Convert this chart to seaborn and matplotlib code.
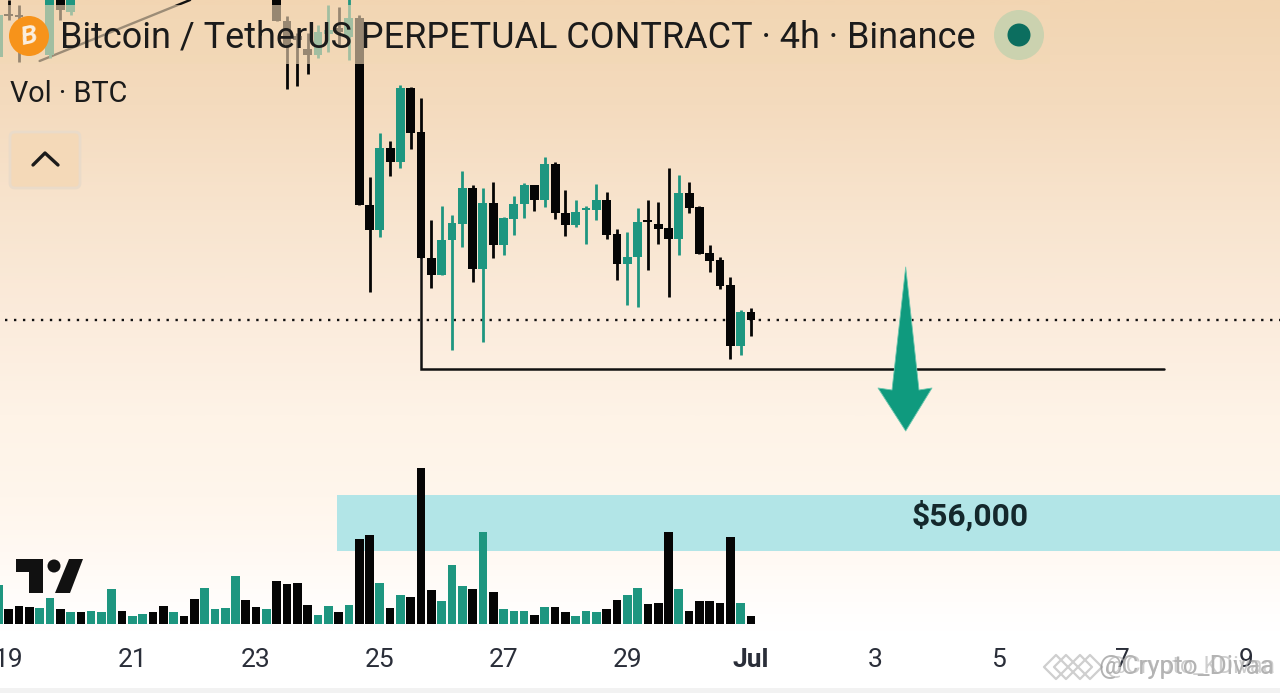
import numpy as np
import pandas as pd
import matplotlib
matplotlib.use('Agg')
import matplotlib.pyplot as plt
from matplotlib.colors import LinearSegmentedColormap
from matplotlib.patches import Circle, FancyBboxPatch, Polygon, Rectangle
import seaborn as sns

sns.set_theme(style='white')
plt.rcParams['font.family'] = ['Roboto', 'DejaVu Sans']

# candles, counted in 4h steps back from 1 Jul 00:00
offsets = [-73, -72, -71, -68, -67, -66,
           -46, -45, -44, -43, -42, -41, -40, -39, -38, -37, -36, -35, -34, -33,
           -32, -31, -30, -29, -28, -27, -26, -25, -24, -23, -22, -21, -20, -19,
           -18, -17, -16, -15, -14, -13, -12, -11, -10, -9, -8, -7, -6, -5, -4,
           -3, -2, -1, 0]
opens = [60630, 61050, 61050, 60650, 61300, 61080,
         61300, 60990, 60840, 60710, 60650, 60860, 60920, 60830, 61020, 59150, 58900, 59720, 59580, 60320,
         59880, 58620, 58450, 58800, 58960, 59320, 58510, 59170, 58750, 59010, 59160, 59350, 59200, 59560,
         59070, 58950, 59100, 59100, 59200, 58860, 58560, 58630, 59000, 58960, 58920, 58810, 59270, 59130, 58670,
         58600, 58350, 57740, 58080]
highs = [61150, 61200, 61150, 61350, 61350, 61350,
         61350, 61040, 60870, 60870, 60950, 61150, 61130, 61220, 61050, 59430, 59870, 59790, 60350, 60330,
         60220, 59000, 59140, 59050, 59490, 59350, 59320, 59380, 59030, 59240, 59370, 59350, 59630, 59580,
         59300, 59200, 59140, 59360, 59280, 58910, 58880, 59120, 59200, 59180, 59520, 59450, 59380, 59140, 58750,
         58630, 58430, 58100, 58120]
lows = [60580, 61000, 60580, 60620, 61000, 61050,
        60990, 60310, 60340, 60460, 60620, 60680, 60750, 60600, 59150, 58280, 58830, 59440, 59520, 59710,
        58620, 58320, 58450, 57700, 58730, 58380, 57780, 58620, 58650, 58850, 59020, 59090, 59130, 59010,
        58840, 58930, 58760, 59000, 58810, 58400, 58150, 58130, 58500, 58760, 58230, 58650, 59070, 58660, 58480,
        58310, 57610, 57650, 57840]
closes = [61050, 61040, 61030, 61300, 61100, 61300,
          60990, 60750, 60800, 60650, 60880, 60900, 60880, 61020, 59150, 58900, 59720, 59580, 60320, 59870,
          58620, 58450, 58800, 58970, 59320, 58510, 59170, 58750, 59020, 59160, 59350, 59200, 59560, 59070,
          58950, 59080, 59120, 59200, 58850, 58560, 58630, 58980, 58980, 58910, 58810, 59270, 59120, 58660, 58590,
          58340, 57740, 58080, 58000]

vol_offsets = list(range(-73, 1))
volumes = [39, 15, 18, 17, 16, 26, 15, 12, 12, 13, 12, 35, 13, 8, 10, 12, 18, 12, 8, 25,
           36, 15, 16, 48, 24, 17, 15, 43, 40, 41, 19, 9, 18, 12, 19, 85, 89, 41, 16, 29,
           27, 156, 34, 23, 59, 38, 35, 92, 32, 15, 13, 13, 9, 17, 17, 12, 8, 13, 12, 15,
           24, 29, 36, 20, 21, 92, 35, 13, 23, 23, 21, 87, 21, 8]
vol_sides = ['up', 'down', 'down', 'down', 'up', 'up', 'down', 'up', 'down', 'up', 'up', 'up', 'down', 'up', 'up', 'down', 'down', 'up', 'down', 'down',
             'up', 'up', 'up', 'up', 'down', 'down', 'up', 'down', 'down', 'down', 'down', 'up', 'up', 'down', 'up', 'down', 'down', 'up', 'down', 'up',
             'down', 'down', 'down', 'up', 'up', 'up', 'down', 'up', 'down', 'up', 'up', 'up', 'down', 'up', 'down', 'down', 'up', 'up', 'up', 'down',
             'down', 'up', 'up', 'down', 'down', 'down', 'up', 'down', 'down', 'down', 'down', 'down', 'up', 'down']

tick_offsets = [-72, -60, -48, -36, -24, -12, 0, 12, 24, 36, 48]
tick_labels = ['19', '21', '23', '25', '27', '29', 'Jul', '3', '5', '7', '9']

last_price = 58000
support_price = 57510
zone_low, zone_high = 55690, 56250

TEAL = '#1E9680'
BLACK = '#050505'
INK = '#2A2E39'
XLIM = (-72.84, -72.84 + 1280 / 10.31)
YLIM = (54270, 61200)

fig = plt.figure(figsize=(12.8, 6.93), dpi=100)

# background fade, peach at the top to white at the bottom
ax_bg = fig.add_axes([0, 0, 1, 1], zorder=0)
stops = [(0.0, '#F2D5B2'), (0.15, '#F4DBBE'), (0.3, '#F8E4CE'), (0.45, '#FBEBDB'),
         (0.6, '#FEF3E7'), (0.72, '#FFF6EC'), (0.8, '#FFF9F3'), (0.87, '#FFFDFB'), (0.91, '#FFFFFF'), (1.0, '#FFFFFF')]
fade = LinearSegmentedColormap.from_list('fade', stops)
ax_bg.imshow(np.linspace(0, 1, 400)[:, None], aspect='auto', cmap=fade, extent=[0, 1, 0, 1], vmin=0, vmax=1)
ax_bg.set_axis_off()

# price panel
ax = fig.add_axes([0, 0, 1, 1], zorder=1)
ax.patch.set_alpha(0)
candles = pd.DataFrame({'x': offsets, 'o': opens, 'h': highs, 'l': lows, 'c': closes})
candles['color'] = np.where(candles['c'] >= candles['o'], TEAL, BLACK)

ax.add_patch(Rectangle((-40.15, zone_low), 200, zone_high - zone_low, color='#B2E5E7', lw=0, zorder=1))
ax.hlines(last_price, -72.35, XLIM[1], color='#111111', lw=1.7, linestyles=(0, (1, 2.8)), zorder=2)
ax.plot([-32, -32, 40.06], [58620, support_price, support_price], color='#111111', lw=1.8, zorder=2,
        solid_joinstyle='miter')
ax.plot([-69, -54.4], [60590, 61200], color='#111111', lw=1.7, zorder=2)
ax.vlines(candles['x'], candles['l'], candles['h'], colors=candles['color'], lw=2.0, zorder=3)
ax.bar(candles['x'], (candles['c'] - candles['o']).abs().clip(lower=20),
       bottom=candles[['o', 'c']].min(axis=1), width=0.86, color=candles['color'], lw=0, zorder=4)
ax.set_xlim(*XLIM)
ax.set_ylim(*YLIM)
ax.set_axis_off()

# volume panel, bars stand on y=624 px
ax_vol = fig.add_axes([0, 69 / 693, 1, 164 / 693], zorder=2)
ax_vol.patch.set_alpha(0)
vol_df = pd.DataFrame({'x': vol_offsets, 'volume': volumes, 'side': vol_sides})
sns.barplot(data=vol_df, x='x', y='volume', hue='side', palette={'up': TEAL, 'down': BLACK}, native_scale=True,
            dodge=False, width=0.84, saturation=1, linewidth=0, legend=False, ax=ax_vol)
ax_vol.set_xlim(*XLIM)
ax_vol.set_ylim(0, 164)
ax_vol.set_xlabel('')
ax_vol.set_ylabel('')
ax_vol.set_yticks([])
ax_vol.set_xticks(tick_offsets, tick_labels)
ax_vol.tick_params(axis='x', length=0, pad=17, labelsize=19, labelcolor=INK)
ax_vol.get_xticklabels()[6].set_fontweight('bold')
sns.despine(ax=ax_vol, left=True, bottom=True)

# top layer in picture pixels: legend band, arrow, logo, button
ov = fig.add_axes([0, 0, 1, 1], zorder=3)
ov.patch.set_alpha(0)
ov.set_xlim(0, 1280)
ov.set_ylim(693, 0)
ov.set_axis_off()
ov.add_patch(Rectangle((0, 5), 1050, 59, color='#F2D8B6', alpha=0.62, lw=0))
ov.add_patch(Rectangle((0, 688), 1280, 5, color='#F2F2F2', lw=0))

ov.add_patch(Circle((29, 36), 20, color='#F7931A', lw=0))
ov.text(29, 36.5, 'B', color='#FBEFE0', fontsize=19, fontweight='bold', style='italic', ha='center', va='center',
        rotation=12)
ov.text(60, 37.5, 'Bitcoin / TetherUS PERPETUAL CONTRACT · 4h · Binance', color='#1B1B1B', fontsize=25.9,
        ha='left', va='center')
ov.add_patch(Circle((1019, 35), 25, color='#CBD2AF', lw=0))
ov.add_patch(Circle((1019, 35), 11.5, color='#0C6E5F', lw=0))
ov.text(10, 94.5, 'Vol · BTC', color='#1B1B1B', fontsize=20.7, ha='left', va='center')

ov.add_patch(FancyBboxPatch((13, 135), 64, 50, boxstyle='round,pad=3,rounding_size=5', fc='#F4D9B8', ec='#EADBC9', lw=2))
ov.plot([33, 45, 58], [165, 153, 165], color='#1B1B1B', lw=2.4, solid_capstyle='round')

ov.add_patch(Polygon([(905.7, 267), (919, 390), (932, 388), (905.7, 431), (878, 388), (892, 390)], closed=True,
                     fc='#0F9A7E', ec='#6CC7AE', lw=0.6, joinstyle='round'))
ov.text(970, 515.5, '$56,000', color='#14282C', fontsize=22.9, fontweight='bold', ha='center', va='center')

# tradingview mark
ov.add_patch(Polygon([(16, 559), (43, 559), (43, 593), (29, 593), (29, 572), (16, 572)], closed=True, fc='#111111', lw=0))
ov.add_patch(Circle((54, 566), 6.5, color='#111111', lw=0))
ov.add_patch(Polygon([(55, 593), (70, 593), (83, 559), (69, 559)], closed=True, fc='#111111', lw=0))

# watermark, doubled like the repost
ov.scatter([1056, 1066, 1080, 1090], [667, 667, 667, 667], marker='D', s=150, facecolors='none',
           edgecolors='#CFCFCF', linewidths=1.6)
ov.text(1098, 667, '@Crypto_Divaa', color='#8A8A8A', alpha=0.65, fontsize=18.8, ha='left', va='center')
ov.text(1106, 667, '@Crypto_KDivaa', color='#B5B5B5', alpha=0.65, fontsize=16.6, ha='left', va='center')

fig.savefig('out.png', dpi=100)
